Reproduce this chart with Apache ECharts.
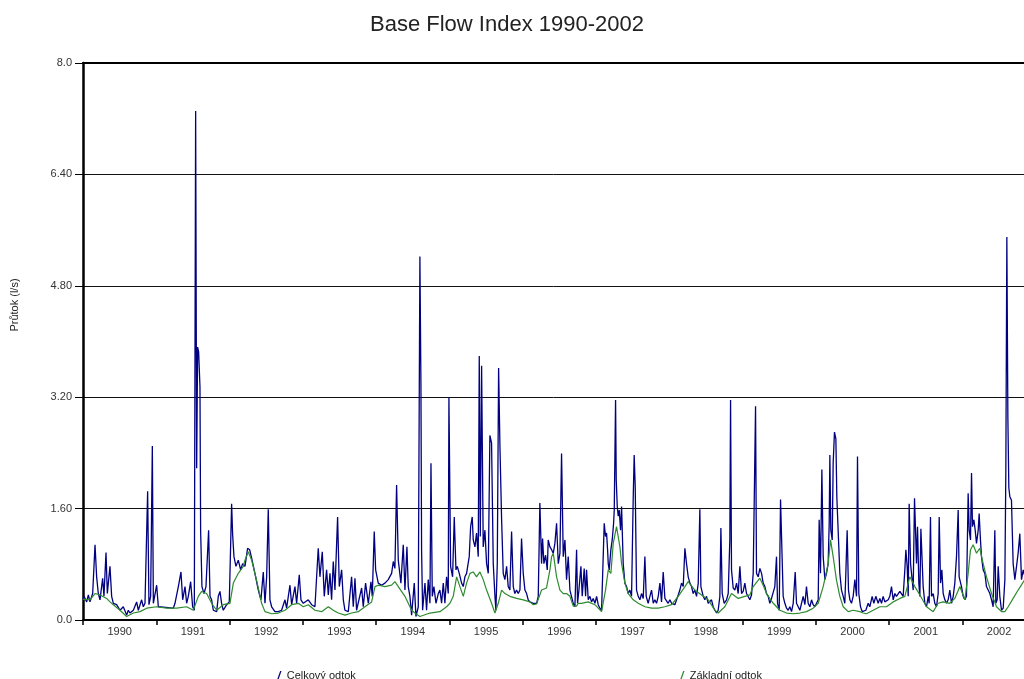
<!DOCTYPE html>
<html>
<head>
<meta charset="utf-8">
<script src="https://cdn.jsdelivr.net/npm/echarts@6/dist/echarts.min.js"></script>
<style>
html,body{margin:0;padding:0;background:#fff;}
#chart{width:1024px;height:679px;}
</style>
</head>
<body>
<div id="chart"></div>
<script>
const chartTitle = 'Base Flow Index 1990-2002';
const yAxisTitle = 'Průtok (l/s)';
const seriesNames = ['Celkový odtok', 'Základní odtok'];
const yearTicks = [1990, 1991, 1992, 1993, 1994, 1995, 1996, 1997, 1998, 1999, 2000, 2001, 2002];
const yMin = 0, yMax = 8, yStep = 1.6;
const xMin = 1990, xMax = 2002.84;

// Celkový odtok (total flow) — [decimal year, l/s]
const total1990_1993 = [
[1990.000,0.30],[1990.014,0.34],[1990.050,0.26],[1990.073,0.36],[1990.095,0.26],[1990.132,0.38],[1990.164,1.08],[1990.186,0.62],[1990.209,0.38],[1990.232,0.29],[1990.268,0.60],[1990.286,0.34],[1990.314,0.97],[1990.332,0.38],[1990.368,0.77],[1990.391,0.34],[1990.414,0.24],[1990.459,0.22],[1990.505,0.14],[1990.550,0.19],[1990.596,0.07],[1990.618,0.14],[1990.641,0.10],[1990.687,0.14],[1990.732,0.26],[1990.755,0.14],[1990.800,0.29],[1990.823,0.19],[1990.846,0.24],[1990.882,1.85],[1990.900,0.22],[1990.923,0.34],[1990.946,2.50],[1990.960,0.24],[1991.005,0.50],[1991.028,0.19],[1991.050,0.17],[1991.232,0.17],[1991.255,0.24],[1991.301,0.48],[1991.337,0.69],[1991.360,0.29],[1991.392,0.48],[1991.414,0.24],[1991.437,0.34],[1991.469,0.55],[1991.496,0.19],[1991.519,0.14],[1991.537,7.31],[1991.551,2.18],[1991.564,3.92],[1991.578,3.85],[1991.596,3.35],[1991.605,1.29],[1991.623,0.48],[1991.651,0.38],[1991.678,0.48],[1991.714,1.29],[1991.733,0.34],[1991.755,0.29],[1991.778,0.14],[1991.824,0.12],[1991.846,0.34],[1991.869,0.41],[1991.891,0.24],[1991.914,0.14],[1991.960,0.22],[1991.996,0.26],[1992.028,1.67],[1992.042,1.22],[1992.060,0.91],[1992.087,0.77],[1992.119,0.86],[1992.151,0.72],[1992.178,0.81],[1992.210,0.77],
[1992.246,1.03],[1992.274,1.01],[1992.301,0.89],[1992.346,0.67],[1992.392,0.43],[1992.428,0.29],[1992.460,0.69],[1992.483,0.24],[1992.506,0.62],[1992.528,1.59],[1992.551,0.29],[1992.574,0.19],[1992.619,0.12],[1992.665,0.12],[1992.710,0.14],[1992.756,0.29],[1992.778,0.17],[1992.824,0.50],[1992.847,0.22],[1992.892,0.48],[1992.915,0.24],[1992.951,0.65],[1992.974,0.29],[1993.006,0.24],[1993.074,0.29],[1993.120,0.22],[1993.165,0.19],[1993.210,1.03],[1993.233,0.62],[1993.265,0.98],[1993.292,0.34],[1993.324,0.72],[1993.347,0.36],[1993.370,0.67],[1993.392,0.29],[1993.415,0.84],[1993.438,0.43],[1993.474,1.48],[1993.497,0.48],[1993.529,0.72],[1993.552,0.29],[1993.574,0.14],[1993.620,0.12],[1993.665,0.62],[1993.688,0.19],[1993.711,0.60],[1993.733,0.14],[1993.756,0.12],[1993.802,0.46],[1993.824,0.19],[1993.856,0.53],[1993.893,0.24],[1993.929,0.55],[1993.947,0.34],[1993.974,1.27],[1993.993,0.72]
];
const total1994_1996 = [
[1994.029,0.53],[1994.074,0.50],[1994.120,0.53],[1994.165,0.58],[1994.211,0.67],[1994.234,0.84],[1994.256,0.74],[1994.279,1.94],[1994.302,0.86],[1994.338,0.53],[1994.370,1.08],[1994.393,0.43],[1994.420,1.05],[1994.438,0.48],[1994.461,0.34],
[1994.484,0.07],[1994.506,0.07],[1994.520,0.53],[1994.543,0.05],[1994.575,0.19],[1994.597,5.22],[1994.611,3.40],[1994.620,1.01],[1994.634,0.14],[1994.666,0.53],[1994.688,0.14],[1994.711,0.58],[1994.734,0.24],[1994.748,2.25],[1994.766,0.34],[1994.788,0.48],[1994.816,0.24],[1994.848,0.38],[1994.870,0.43],[1994.893,0.24],[1994.916,0.53],[1994.938,0.24],[1994.961,0.62],[1994.984,0.38],[1994.993,3.20],[1995.016,0.77],[1995.043,0.62],[1995.066,1.48],[1995.089,0.72],[1995.107,0.77],[1995.134,0.67],[1995.166,0.53],[1995.189,0.48],[1995.211,0.62],[1995.234,0.67],[1995.270,0.91],[1995.289,1.34],[1995.311,1.48],[1995.325,1.15],[1995.348,1.05],[1995.370,1.25],[1995.393,0.91],[1995.407,3.79],[1995.421,1.20],[1995.439,3.65],[1995.461,1.05],[1995.484,1.29],[1995.507,0.81],[1995.530,0.67],[1995.552,2.65],[1995.575,2.54],[1995.598,0.81],[1995.621,0.34],[1995.634,0.14],[1995.653,0.81],[1995.671,3.62],[1995.689,2.50],[1995.712,1.44],[1995.734,0.67],[1995.757,0.58],[1995.780,0.77],[1995.802,0.48],[1995.825,0.43],[1995.848,1.27],[1995.871,0.48],[1995.893,0.38],[1995.916,0.43],[1995.939,0.38],[1995.962,0.43],[1995.984,1.17],[1996.007,0.67],[1996.030,0.43],[1996.053,0.38],[1996.075,0.29],[1996.098,0.26],[1996.144,0.24],[1996.189,0.24],[1996.212,0.34],[1996.234,1.68],[1996.257,0.81],[1996.271,1.17],[1996.289,0.81],[1996.312,0.93],[1996.335,0.72],[1996.348,1.15],[1996.371,1.05],[1996.394,1.01],[1996.417,0.96],[1996.439,1.10],[1996.462,1.39],[1996.485,0.81],[1996.508,0.96],[1996.530,2.39],[1996.553,0.91],[1996.576,1.15],[1996.598,0.58],[1996.621,0.91],[1996.644,0.43],[1996.667,0.41],[1996.689,0.24],[1996.712,0.19]
];
const total1997_1999 = [
[1996.735,1.01],[1996.748,0.24],[1996.767,0.43],[1996.794,0.77],[1996.812,0.34],[1996.839,0.74],[1996.858,0.34],[1996.871,0.72],[1996.894,0.29],[1996.917,0.34],[1996.939,0.26],[1996.962,0.31],[1996.985,0.24],[1997.008,0.34],[1997.030,0.22],[1997.053,0.17],[1997.076,0.14],[1997.099,0.12],[1997.112,1.39],[1997.130,1.20],[1997.144,1.25],[1997.158,1.01],[1997.167,0.81],[1997.180,0.72],[1997.203,1.01],[1997.221,1.15],[1997.240,1.39],[1997.249,1.58],[1997.267,3.16],[1997.276,2.01],[1997.290,1.63],[1997.303,1.49],[1997.317,1.58],[1997.335,1.29],[1997.349,1.63],[1997.371,0.81],[1997.394,0.53],[1997.417,0.48],[1997.440,0.38],[1997.462,0.43],[1997.485,0.34],[1997.508,1.77],[1997.521,2.37],[1997.535,1.92],[1997.553,0.43],[1997.576,0.34],[1997.599,0.29],[1997.621,0.38],[1997.644,0.31],[1997.667,0.91],[1997.685,0.34],[1997.712,0.24],[1997.735,0.34],[1997.758,0.43],[1997.781,0.24],[1997.803,0.29],[1997.826,0.24],[1997.849,0.34],[1997.872,0.53],[1997.894,0.26],[1997.917,0.69],[1997.940,0.31],[1997.963,0.29],[1997.985,0.24],[1998.008,0.29],[1998.031,0.24],[1998.053,0.26],[1998.076,0.22],[1998.099,0.29],[1998.122,0.36],[1998.144,0.43],[1998.167,0.53],[1998.190,0.48],[1998.213,1.03],[1998.235,0.81],[1998.258,0.62],[1998.281,0.53],[1998.304,0.48],[1998.326,0.38],[1998.349,0.43],[1998.372,0.34],[1998.395,0.53],[1998.417,1.59],[1998.431,0.48],[1998.463,0.34],[1998.485,0.29],[1998.508,0.34],[1998.531,0.24],[1998.554,0.22],[1998.576,0.29],[1998.599,0.19],[1998.622,0.14],[1998.645,0.10],[1998.667,0.14],[1998.690,0.34],[1998.704,1.32],[1998.722,0.38],[1998.749,0.24],[1998.781,0.29],[1998.804,0.38],[1998.826,1.15],[1998.836,3.16],[1998.849,0.72],[1998.872,0.46],[1998.895,0.43],[1998.918,0.53],[1998.940,0.38],[1998.963,0.77],[1998.986,0.38],
[1999.008,0.41],[1999.031,0.53],[1999.054,0.38],[1999.077,0.36],[1999.099,0.29],[1999.122,0.36],[1999.145,0.67],[1999.163,2.01],[1999.177,3.07],[1999.190,0.67],[1999.213,0.62],[1999.236,0.74],[1999.259,0.67],[1999.281,0.53],[1999.304,0.48],[1999.327,0.38],[1999.350,0.34],[1999.372,0.24],[1999.395,0.31],[1999.418,0.29],[1999.440,0.48],[1999.463,0.91],[1999.477,0.24],[1999.500,0.14],[1999.518,1.73],[1999.536,1.72],[1999.554,0.34],[1999.577,0.24],[1999.600,0.17],[1999.622,0.14],[1999.645,0.19],[1999.668,0.12],[1999.691,0.24],[1999.718,0.69],[1999.736,0.24],[1999.759,0.19],[1999.782,0.14],[1999.804,0.24],[1999.827,0.34],[1999.850,0.22],[1999.872,0.48],[1999.895,0.24],[1999.918,0.19],[1999.941,0.29],[1999.963,0.22],[1999.986,0.19]
];
const total2000_2002 = [
[2000.009,0.24],[2000.032,0.29],[2000.045,1.44],[2000.063,0.67],[2000.082,2.16],[2000.100,0.91],[2000.123,0.58],[2000.145,0.67],[2000.168,0.81],[2000.182,1.39],[2000.191,2.37],[2000.204,1.29],[2000.223,1.15],[2000.236,2.25],[2000.254,2.70],[2000.273,2.60],[2000.286,1.77],[2000.304,1.29],[2000.327,0.67],[2000.350,0.43],[2000.373,0.34],[2000.395,0.24],[2000.409,0.67],[2000.427,1.29],[2000.445,0.43],[2000.464,0.29],[2000.486,0.24],[2000.509,0.34],[2000.532,0.58],[2000.555,0.34],[2000.568,2.35],[2000.586,0.38],[2000.609,0.19],[2000.632,0.12],[2000.655,0.10],[2000.682,0.14],[2000.714,0.24],[2000.736,0.19],[2000.768,0.34],[2000.791,0.24],[2000.818,0.34],[2000.850,0.24],[2000.873,0.31],[2000.896,0.24],[2000.918,0.34],[2000.941,0.26],[2000.964,0.24],[2000.987,0.29],[2001.009,0.34],[2001.032,0.48],[2001.055,0.29],[2001.078,0.38],[2001.100,0.34],[2001.123,0.36],[2001.146,0.41],
[2001.169,0.43],[2001.191,0.34],[2001.214,0.72],[2001.228,1.01],[2001.246,0.77],[2001.260,0.34],[2001.273,1.67],[2001.292,0.81],[2001.305,0.67],[2001.328,0.43],[2001.346,1.75],[2001.360,1.29],[2001.373,0.81],[2001.387,1.34],[2001.405,0.53],[2001.419,0.34],[2001.433,1.31],[2001.451,1.29],[2001.464,0.48],[2001.487,0.24],[2001.510,0.19],[2001.533,0.34],[2001.546,0.24],[2001.564,1.48],[2001.578,0.34],[2001.601,0.38],[2001.623,0.24],[2001.646,0.19],[2001.669,0.38],[2001.683,1.48],[2001.701,0.53],[2001.719,0.72],[2001.737,0.38],[2001.760,0.29],[2001.783,0.24],[2001.805,0.29],[2001.828,0.43],[2001.851,0.24],[2001.874,0.34],[2001.896,0.53],[2001.919,0.91],[2001.942,1.58],[2001.955,0.62],[2001.987,0.48],[2002.010,0.34],[2002.033,0.29],[2002.055,0.34],[2002.078,1.82],[2002.092,1.29],[2002.110,1.15],[2002.124,2.11],[2002.137,1.34],[2002.156,1.44],[2002.174,1.29],[2002.192,1.10],[2002.215,1.29],[2002.228,1.53],[2002.246,1.15],[2002.260,0.91],[2002.283,0.72],[2002.306,0.67],[2002.328,0.48],[2002.351,0.43],[2002.374,0.38],[2002.397,0.29],[2002.419,0.19],[2002.442,1.29],[2002.456,0.24],[2002.474,0.29],[2002.488,0.77],[2002.510,0.34],[2002.533,0.14],[2002.556,0.17],[2002.579,0.58],[2002.592,2.11],[2002.606,5.50],[2002.620,2.90],[2002.633,1.90],[2002.647,1.77],[2002.669,1.72],[2002.692,0.81],[2002.715,0.58],[2002.738,0.77],[2002.760,0.96],[2002.783,1.24],[2002.806,0.58],[2002.829,0.72],[2002.845,0.65]
];

// Základní odtok (base flow) — [decimal year, l/s]
const base1990_1995 = [
[1990.000,0.30],[1990.014,0.31],[1990.095,0.29],[1990.164,0.38],[1990.232,0.36],[1990.323,0.31],[1990.368,0.26],[1990.414,0.22],[1990.505,0.14],[1990.596,0.05],[1990.687,0.10],[1990.778,0.12],[1990.869,0.17],[1991.005,0.19],[1991.141,0.17],[1991.278,0.17],[1991.414,0.19],[1991.505,0.14],[1991.573,0.34],[1991.619,0.41],[1991.687,0.38],[1991.755,0.24],[1991.824,0.14],[1991.914,0.22],[1992.005,0.24],[1992.051,0.53],[1992.119,0.67],[1992.187,0.77],[1992.210,0.86],[1992.255,0.98],[1992.301,0.86],[1992.369,0.57],[1992.437,0.24],[1992.483,0.12],[1992.574,0.09],[1992.665,0.10],[1992.756,0.14],[1992.847,0.22],[1992.938,0.24],[1993.006,0.19],[1993.074,0.22],[1993.165,0.14],[1993.256,0.12],[1993.347,0.19],[1993.415,0.14],[1993.483,0.10],[1993.574,0.07],[1993.665,0.10],[1993.756,0.12],[1993.847,0.19],[1993.938,0.26],[1993.984,0.48],[1994.029,0.50],[1994.120,0.48],[1994.211,0.50],[1994.256,0.55],[1994.302,0.48],[1994.393,0.34],[1994.438,0.24],[1994.484,0.14],[1994.529,0.10],[1994.597,0.05],[1994.734,0.10],[1994.870,0.12],[1994.961,0.19],[1995.007,0.24],[1995.052,0.34],[1995.098,0.62],[1995.143,0.48],[1995.189,0.34],[1995.234,0.53],[1995.280,0.67],[1995.325,0.69],[1995.370,0.62],[1995.416,0.69],[1995.461,0.58],[1995.507,0.43],[1995.575,0.24],[1995.621,0.10],[1995.666,0.24],[1995.712,0.43],[1995.757,0.38],[1995.825,0.34],[1995.916,0.31]
];
const base1996_2002 = [
[1996.007,0.29],[1996.098,0.26],[1996.144,0.22],[1996.189,0.23],[1996.257,0.43],[1996.325,0.46],[1996.371,0.72],[1996.394,0.91],[1996.417,0.96],[1996.462,0.62],[1996.508,0.43],[1996.553,0.38],[1996.598,0.38],[1996.644,0.34],[1996.689,0.20],[1996.735,0.20],[1996.757,0.24],[1996.803,0.24],[1996.894,0.26],[1996.985,0.22],[1997.076,0.12],[1997.099,0.10],[1997.130,0.43],[1997.167,0.72],[1997.203,0.67],[1997.235,1.10],[1997.280,1.34],[1997.326,1.05],[1997.349,0.81],[1997.394,0.53],[1997.440,0.38],[1997.508,0.29],[1997.576,0.24],[1997.667,0.19],[1997.758,0.17],[1997.849,0.17],[1997.940,0.19],[1998.031,0.22],[1998.122,0.34],[1998.213,0.48],[1998.258,0.55],[1998.349,0.43],[1998.440,0.36],[1998.531,0.29],[1998.622,0.14],[1998.667,0.10],[1998.758,0.19],[1998.849,0.38],[1998.940,0.31],[1999.031,0.34],[1999.099,0.36],[1999.145,0.48],[1999.236,0.60],[1999.281,0.50],[1999.327,0.38],[1999.418,0.24],[1999.509,0.14],[1999.600,0.10],[1999.691,0.09],[1999.782,0.10],[1999.872,0.12],[1999.963,0.17],[2000.032,0.24],[2000.100,0.48],[2000.168,0.81],[2000.200,1.15],[2000.236,0.91],[2000.282,0.57],[2000.327,0.34],[2000.373,0.19],[2000.441,0.12],[2000.509,0.14],[2000.600,0.12],[2000.646,0.10],[2000.691,0.09],[2000.782,0.14],[2000.873,0.19],[2000.964,0.19],[2001.055,0.26],[2001.146,0.31],[2001.214,0.34],[2001.282,0.62],[2001.351,0.48],[2001.419,0.36],[2001.510,0.19],[2001.601,0.12],[2001.669,0.24],[2001.737,0.26],[2001.828,0.24],[2001.896,0.31],[2001.965,0.48],[2002.033,0.29],[2002.078,0.67],[2002.110,1.01],[2002.146,1.08],[2002.192,0.96],[2002.237,1.03],[2002.283,0.81],[2002.328,0.62],[2002.397,0.38],[2002.465,0.19],[2002.533,0.12],[2002.579,0.12],[2002.624,0.19],[2002.692,0.31],[2002.760,0.43],[2002.845,0.57]
];

const totalFlow = total1990_1993.concat(total1994_1996, total1997_1999, total2000_2002);
const baseFlow = base1990_1995.concat(base1996_2002);

const FONT = "'Liberation Sans', Arial, sans-serif";
const chart = echarts.init(document.getElementById('chart'), null, {renderer: 'canvas'});

const legendIcon = 'path://M0,10L1.5,10L5,0L3.5,0Z';

chart.setOption({
  animation: false,
  backgroundColor: '#ffffff',
  title: {
    text: chartTitle,
    left: 365, top: 9,
    textStyle: {fontFamily: FONT, fontSize: 22, fontWeight: 'normal', color: '#222'}
  },
  graphic: [{
    type: 'text',
    x: 15, y: 305,
    rotation: Math.PI / 2,
    style: {text: yAxisTitle, fontFamily: FONT, fontSize: 11, fill: '#222', align: 'center', verticalAlign: 'middle'}
  }],
  legend: [
    {data: [seriesNames[0]], left: 272, top: 665, icon: legendIcon, itemWidth: 5, itemHeight: 9,
     textStyle: {fontFamily: FONT, fontSize: 11, color: '#222'}},
    {data: [seriesNames[1]], left: 675, top: 665, icon: legendIcon, itemWidth: 5, itemHeight: 9,
     textStyle: {fontFamily: FONT, fontSize: 11, color: '#222'}}
  ],
  grid: {left: 83, right: 0, top: 63, bottom: 59, containLabel: false},
  xAxis: [{
    type: 'value', min: xMin, max: xMax, position: 'bottom',
    axisLine: {show: true, lineStyle: {color: '#000', width: 2}},
    axisTick: {show: true, customValues: yearTicks, length: 5, lineStyle: {color: '#000', width: 1.5}},
    axisLabel: {
      customValues: yearTicks.map(y => y + 0.5),
      formatter: v => String(Math.floor(v)),
      fontFamily: FONT, fontSize: 11, color: '#333', margin: 6
    },
    splitLine: {show: false}
  }, {
    type: 'value', min: xMin, max: xMax, position: 'top',
    axisLine: {show: true, lineStyle: {color: '#000', width: 2}},
    axisTick: {show: false}, axisLabel: {show: false}, splitLine: {show: false}
  }],
  yAxis: {
    type: 'value', min: yMin, max: yMax, interval: yStep,
    axisLine: {show: true, lineStyle: {color: '#000', width: 2.5}},
    axisTick: {show: true, length: 8, lineStyle: {color: '#000', width: 1}},
    axisLabel: {
      formatter: v => (Math.abs(v) < 1e-9 || Math.abs(v - yMax) < 1e-9) ? v.toFixed(1) : v.toFixed(2),
      fontFamily: FONT, fontSize: 11, color: '#333', margin: 11
    },
    splitLine: {show: true, lineStyle: {color: '#111', width: 1}}
  },
  series: [{
    name: seriesNames[0], type: 'line', xAxisIndex: 0, data: totalFlow,
    symbol: 'none', showSymbol: false,
    lineStyle: {color: '#000080', width: 1.3},
    itemStyle: {color: '#000080'}, z: 2
  }, {
    name: seriesNames[1], type: 'line', xAxisIndex: 0, data: baseFlow,
    symbol: 'none', showSymbol: false,
    lineStyle: {color: '#2e8b2e', width: 1.2},
    itemStyle: {color: '#2e8b2e'}, z: 3
  }]
});
</script>
</body>
</html>
